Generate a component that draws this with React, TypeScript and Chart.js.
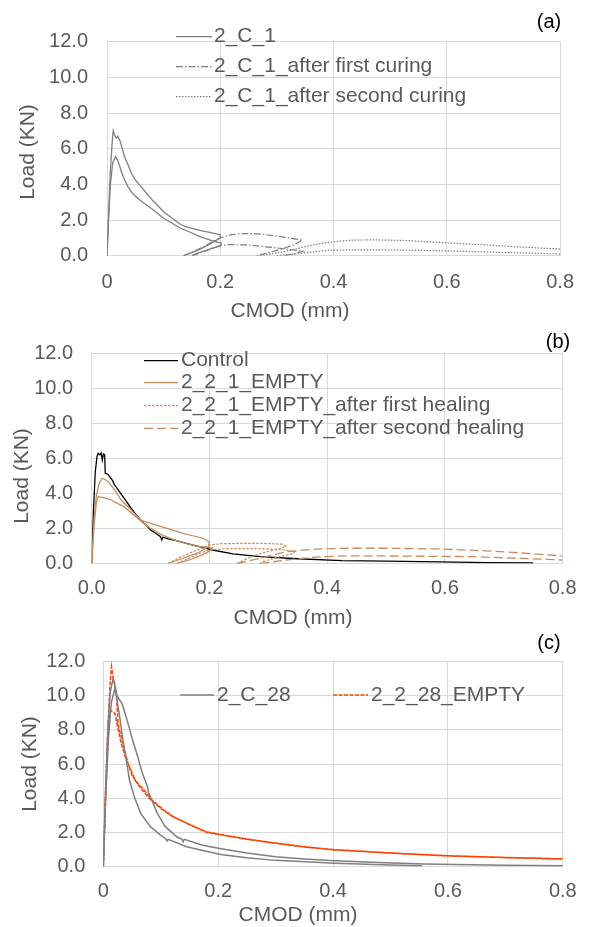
import { useEffect, useRef } from "react";
import { Chart, registerables } from "chart.js";
Chart.register(...registerables);

const FONT = "'Liberation Sans', Arial, sans-serif";
const TEXT = "#595959";
const GRID = "#d9d9d9";
const GRAY = "#7f7f7f";
const TAN = "#c48d60";
const RED = "#ff4000";

// ---- tick labels ----
const yTickLabels = ["0.0", "2.0", "4.0", "6.0", "8.0", "10.0", "12.0"];
const xTickLabelsA = ["0", "0.2", "0.4", "0.6", "0.8"];
const xTickLabelsB = ["0.0", "0.2", "0.4", "0.6", "0.8"];
const xTickLabelsC = ["0", "0.2", "0.4", "0.6", "0.8"];

// ---- panel (a) data: [CMOD mm, Load kN] ----
const a_C1_s1 = [[0,0],[0.003,2.5],[0.006,4.8],[0.009,6.3],[0.011,7.0],[0.013,6.8],[0.016,6.6],[0.019,6.7],[0.023,6.45],[0.027,6.0],[0.031,5.55],[0.037,5.1],[0.043,4.62],[0.05,4.25],[0.06,3.87],[0.07,3.5],[0.08,3.12],[0.09,2.8],[0.1,2.47],[0.115,2.1],[0.13,1.75],[0.14,1.62],[0.164,1.42],[0.185,1.28],[0.2,1.18],[0.2,1.0],[0.18,0.62],[0.16,0.3],[0.142,0.08],[0.135,0]];
const a_C1_s2 = [[0,0],[0.003,2.2],[0.006,4.0],[0.01,5.2],[0.015,5.55],[0.019,5.35],[0.0255,4.71],[0.031,4.25],[0.037,3.87],[0.045,3.5],[0.054,3.22],[0.065,2.95],[0.078,2.66],[0.09,2.35],[0.1,2.1],[0.115,1.82],[0.13,1.54],[0.148,1.3],[0.164,1.07],[0.185,0.85],[0.202,0.7],[0.2,0.55],[0.18,0.35],[0.16,0.15],[0.15,0]];
const a_first_s1 = [[0.135,0],[0.15,0.2],[0.17,0.5],[0.19,0.85],[0.205,1.05],[0.22,1.18],[0.24,1.24],[0.26,1.24],[0.28,1.18],[0.3,1.1],[0.32,1.0],[0.345,0.88],[0.33,0.6],[0.3,0.3],[0.265,0]];
const a_first_s2 = [[0.15,0],[0.165,0.15],[0.185,0.4],[0.2,0.58],[0.22,0.62],[0.25,0.6],[0.28,0.5],[0.31,0.4],[0.346,0.25],[0.33,0.1],[0.31,0]];
const a_second_s1 = [[0.265,0],[0.3,0.15],[0.33,0.35],[0.36,0.58],[0.39,0.75],[0.43,0.87],[0.47,0.89],[0.53,0.85],[0.6,0.72],[0.67,0.6],[0.74,0.47],[0.8,0.37]];
const a_second_s2 = [[0.3,0],[0.34,0.12],[0.387,0.3],[0.43,0.33],[0.5,0.32],[0.59,0.28],[0.7,0.18],[0.8,0.1]];

// ---- panel (b) data ----
const b_control = [[0,0],[0.003,3.0],[0.006,5.2],[0.009,6.1],[0.011,6.28],[0.014,6.2],[0.016,6.3],[0.018,5.9],[0.02,6.25],[0.022,6.2],[0.023,5.14],[0.027,5.1],[0.0305,4.95],[0.035,4.75],[0.039,4.47],[0.043,4.3],[0.047,4.1],[0.055,3.72],[0.067,3.15],[0.075,2.8],[0.083,2.48],[0.092,2.2],[0.1,1.91],[0.11,1.7],[0.117,1.53],[0.119,1.34],[0.121,1.5],[0.13,1.4],[0.139,1.34],[0.155,1.2],[0.172,1.05],[0.19,0.9],[0.205,0.77],[0.24,0.55],[0.286,0.39],[0.35,0.27],[0.425,0.16],[0.5,0.13],[0.592,0.09],[0.67,0.05],[0.75,0.03]];
const b_empty_s1 = [[0,0],[0.004,2.5],[0.008,3.9],[0.013,4.6],[0.018,4.86],[0.022,4.8],[0.028,4.66],[0.033,4.45],[0.039,4.19],[0.05,3.62],[0.067,3.05],[0.083,2.48],[0.1,2.29],[0.128,2.0],[0.155,1.72],[0.189,1.44],[0.2,1.24],[0.198,0.95],[0.18,0.6],[0.155,0.3],[0.13,0]];
const b_empty_s2 = [[0,0],[0.004,2.2],[0.008,3.5],[0.011,3.81],[0.02,3.75],[0.033,3.62],[0.045,3.4],[0.055,3.24],[0.067,2.9],[0.078,2.58],[0.09,2.25],[0.1,2.0],[0.12,1.62],[0.14,1.35],[0.16,1.15],[0.18,0.98],[0.205,0.9],[0.2,0.7],[0.185,0.45],[0.165,0.2],[0.145,0]];
const b_first_s1 = [[0.13,0],[0.15,0.35],[0.17,0.65],[0.19,0.9],[0.2,1.05],[0.22,1.13],[0.26,1.15],[0.3,1.14],[0.325,1.1],[0.33,0.98],[0.32,0.85],[0.29,0.6],[0.265,0.3],[0.247,0]];
const b_first_s2 = [[0.145,0],[0.165,0.3],[0.185,0.6],[0.2,0.78],[0.23,0.85],[0.28,0.85],[0.32,0.8],[0.345,0.68],[0.34,0.55],[0.31,0.3],[0.29,0.1],[0.286,0]];
const b_second_s1 = [[0.247,0],[0.28,0.25],[0.33,0.67],[0.38,0.82],[0.436,0.87],[0.5,0.87],[0.59,0.83],[0.67,0.72],[0.74,0.58],[0.8,0.43]];
const b_second_s2 = [[0.286,0],[0.33,0.2],[0.38,0.36],[0.425,0.43],[0.5,0.43],[0.647,0.39],[0.72,0.3],[0.8,0.2]];

// ---- panel (c) data ----
const c_C28_s1 = [[0,0],[0.004,4.5],[0.008,8],[0.012,10.2],[0.017,11.0],[0.02,10.6],[0.024,10.0],[0.0285,9.75],[0.033,9.5],[0.037,9.06],[0.043,8.38],[0.051,7.41],[0.06,6.43],[0.068,5.46],[0.077,4.68],[0.079,4.3],[0.082,4.09],[0.094,3.12],[0.108,2.34],[0.128,1.75],[0.137,1.6],[0.139,1.46],[0.141,1.6],[0.173,1.25],[0.205,1.05],[0.25,0.8],[0.3,0.58],[0.35,0.45],[0.403,0.35],[0.48,0.24],[0.557,0.16],[0.7,0.08],[0.8,0.05]];
const c_C28_s2 = [[0,0],[0.004,4],[0.009,7.5],[0.014,9.6],[0.02,10.4],[0.023,9.94],[0.0285,8.77],[0.034,7.41],[0.04,6.24],[0.0455,5.07],[0.054,4.09],[0.065,3.12],[0.082,2.34],[0.0995,1.85],[0.109,1.62],[0.111,1.5],[0.113,1.6],[0.145,1.17],[0.204,0.72],[0.25,0.52],[0.3,0.37],[0.403,0.2],[0.5,0.1],[0.555,0.05]];
const c_E28_s1 = [[0,0],[0.004,4.5],[0.008,8.2],[0.012,10.8],[0.0143,11.7],[0.017,11.1],[0.02,10.7],[0.023,9.94],[0.0256,8.38],[0.028,8.0],[0.032,7.5],[0.037,6.82],[0.043,6.05],[0.051,5.26],[0.06,4.88],[0.071,4.49],[0.085,3.9],[0.105,3.32],[0.122,2.92],[0.145,2.54],[0.179,2.05],[0.207,1.85],[0.25,1.6],[0.3,1.37],[0.35,1.15],[0.403,0.98],[0.5,0.8],[0.585,0.65],[0.7,0.53],[0.8,0.45]];
const c_E28_s2 = [[0,0],[0.004,4.0],[0.008,7.5],[0.011,9.06],[0.015,9.1],[0.02,8.97],[0.026,8.0],[0.031,7.22],[0.04,6.24],[0.048,5.65],[0.055,5.07],[0.065,4.6],[0.08,4.0],[0.1,3.4],[0.12,2.95],[0.145,2.55],[0.18,2.0],[0.2,1.9],[0.25,1.62],[0.3,1.38],[0.35,1.17],[0.4,1.0],[0.5,0.8],[0.6,0.64],[0.7,0.54],[0.8,0.46]];

type Series = { data: number[][]; color: string; width: number; dash: number[] };
type LegendItem = { label: string; color: string; width: number; dash: number[]; x1: number; x2: number; tx: number; y: number };
type PanelCfg = {
  top: number; height: number;
  area: { left: number; top: number; right: number; bottom: number };
  xLabels: string[]; xPad: number; yPad: number;
  series: Series[]; legend: LegendItem[];
  yTitle: [number, number]; xTitle: [number, number];
  tag: string; tagPos: [number, number];
};

const DASHDOT = [7, 2, 1.5, 2];
const DOT = [1.5, 1.5];
const SHORTDASH = [2.5, 1.5];
const LONGDASH = [9, 4];
const REDDASH = [4, 1.5];

const panels: PanelCfg[] = [
  {
    top: 0, height: 322,
    area: { left: 107, top: 41.7, right: 568.3, bottom: 255.7 },
    xLabels: xTickLabelsA, xPad: 15, yPad: 19,
    series: [
      { data: a_C1_s1, color: GRAY, width: 1.3, dash: [] },
      { data: a_C1_s2, color: GRAY, width: 1.3, dash: [] },
      { data: a_first_s1, color: GRAY, width: 1.2, dash: DASHDOT },
      { data: a_first_s2, color: GRAY, width: 1.2, dash: DASHDOT },
      { data: a_second_s1, color: GRAY, width: 1.2, dash: DOT },
      { data: a_second_s2, color: GRAY, width: 1.2, dash: DOT },
    ],
    legend: [
      { label: "2_C_1", color: GRAY, width: 1.3, dash: [], x1: 176, x2: 212, tx: 214, y: 36.7 },
      { label: "2_C_1_after first curing", color: GRAY, width: 1.2, dash: DASHDOT, x1: 176, x2: 212, tx: 214, y: 66.7 },
      { label: "2_C_1_after second curing", color: GRAY, width: 1.2, dash: DOT, x1: 176, x2: 212, tx: 214, y: 96.7 },
    ],
    yTitle: [28, 152], xTitle: [290, 311], tag: "(a)", tagPos: [549, 22],
  },
  {
    top: 322, height: 306,
    area: { left: 91.7, top: 353, right: 571.7, bottom: 563.5 },
    xLabels: xTickLabelsB, xPad: 12.5, yPad: 18.6,
    series: [
      { data: b_empty_s1, color: TAN, width: 1.3, dash: [] },
      { data: b_empty_s2, color: TAN, width: 1.3, dash: [] },
      { data: b_first_s1, color: TAN, width: 1.2, dash: SHORTDASH },
      { data: b_first_s2, color: TAN, width: 1.2, dash: SHORTDASH },
      { data: b_second_s1, color: TAN, width: 1.3, dash: LONGDASH },
      { data: b_second_s2, color: TAN, width: 1.3, dash: LONGDASH },
      { data: b_control, color: "#000000", width: 1.3, dash: [] },
    ],
    legend: [
      { label: "Control", color: "#000000", width: 1.3, dash: [], x1: 144, x2: 178, tx: 181, y: 360.7 },
      { label: "2_2_1_EMPTY", color: TAN, width: 1.3, dash: [], x1: 144, x2: 178, tx: 181, y: 382.7 },
      { label: "2_2_1_EMPTY_after first healing", color: TAN, width: 1.2, dash: SHORTDASH, x1: 144, x2: 178, tx: 181, y: 405.7 },
      { label: "2_2_1_EMPTY_after second healing", color: TAN, width: 1.3, dash: LONGDASH, x1: 144, x2: 178, tx: 181, y: 428.3 },
    ],
    yTitle: [22.5, 476], xTitle: [293, 618], tag: "(b)", tagPos: [558, 342],
  },
  {
    top: 628, height: 299,
    area: { left: 103.3, top: 661.5, right: 573, bottom: 866.7 },
    xLabels: xTickLabelsC, xPad: 12.3, yPad: 18,
    series: [
      { data: c_C28_s1, color: GRAY, width: 1.5, dash: [] },
      { data: c_C28_s2, color: GRAY, width: 1.5, dash: [] },
      { data: c_E28_s2, color: RED, width: 1.5, dash: REDDASH },
      { data: c_E28_s1, color: RED, width: 1.5, dash: REDDASH },
    ],
    legend: [
      { label: "2_C_28", color: GRAY, width: 1.5, dash: [], x1: 180, x2: 214, tx: 217, y: 695 },
      { label: "2_2_28_EMPTY", color: RED, width: 1.5, dash: REDDASH, x1: 333, x2: 368, tx: 371, y: 695 },
    ],
    yTitle: [30, 764], xTitle: [298, 915], tag: "(c)", tagPos: [549, 643],
  },
];

function Panel({ cfg }: { cfg: PanelCfg }) {
  const ref = useRef<HTMLCanvasElement>(null);
  useEffect(() => {
    const canvas = ref.current!;
    const a = cfg.area;
    const T = cfg.top;
    const textPlugin = {
      id: "panelText",
      afterDraw(chart: any) {
        const ctx = chart.ctx as CanvasRenderingContext2D;
        ctx.save();
        // legend
        for (const it of cfg.legend) {
          ctx.strokeStyle = it.color;
          ctx.lineWidth = it.width;
          ctx.setLineDash(it.dash);
          ctx.beginPath();
          ctx.moveTo(it.x1, it.y - T);
          ctx.lineTo(it.x2, it.y - T);
          ctx.stroke();
          ctx.setLineDash([]);
          ctx.fillStyle = TEXT;
          ctx.font = `21px ${FONT}`;
          ctx.textAlign = "left";
          ctx.textBaseline = "middle";
          ctx.fillText(it.label, it.tx, it.y - T);
        }
        // x title
        ctx.fillStyle = TEXT;
        ctx.font = `21px ${FONT}`;
        ctx.textAlign = "center";
        ctx.textBaseline = "middle";
        ctx.fillText("CMOD (mm)", cfg.xTitle[0], cfg.xTitle[1] - T);
        // y title
        ctx.save();
        ctx.translate(cfg.yTitle[0], cfg.yTitle[1] - T);
        ctx.rotate(-Math.PI / 2);
        ctx.fillText("Load (KN)", 0, 0);
        ctx.restore();
        // tag
        ctx.fillStyle = "#000000";
        ctx.font = `20px ${FONT}`;
        ctx.fillText(cfg.tag, cfg.tagPos[0], cfg.tagPos[1] - T);
        ctx.restore();
      },
    };
    const chart = new Chart(canvas, {
      type: "scatter",
      data: {
        datasets: cfg.series.map((s) => ({
          data: s.data.map(([x, y]) => ({ x, y })),
          showLine: true,
          borderColor: s.color,
          backgroundColor: s.color,
          borderWidth: s.width,
          borderDash: s.dash,
          pointRadius: 0,
          pointHoverRadius: 0,
          tension: 0,
          fill: false,
        })),
      },
      options: {
        responsive: false,
        animation: false,
        events: [],
        layout: { padding: { left: 0, top: a.top - T, right: 589 - a.right, bottom: 0 } },
        plugins: { legend: { display: false }, tooltip: { enabled: false } },
        scales: {
          x: {
            type: "linear",
            min: 0,
            max: 0.8,
            ticks: {
              stepSize: 0.2,
              padding: cfg.xPad,
              color: TEXT,
              font: { family: FONT, size: 20 },
              maxRotation: 0,
              autoSkip: false,
              callback: (_v: any, i: number) => cfg.xLabels[i],
            },
            grid: { color: GRID, drawTicks: false, lineWidth: 1 },
            border: { display: false },
            afterFit: (s: any) => { s.height = T + cfg.height - a.bottom; },
          },
          y: {
            type: "linear",
            min: 0,
            max: 12,
            ticks: {
              stepSize: 2,
              padding: cfg.yPad,
              color: TEXT,
              font: { family: FONT, size: 20 },
              callback: (_v: any, i: number) => yTickLabels[i],
            },
            grid: { color: GRID, drawTicks: false, lineWidth: 1 },
            border: { display: false },
            afterFit: (s: any) => { s.width = a.left; },
          },
        },
      } as any,
      plugins: [textPlugin],
    });
    return () => chart.destroy();
  }, [cfg]);
  return (
    <canvas
      ref={ref}
      width={589}
      height={cfg.height}
      style={{ position: "absolute", left: 0, top: cfg.top, width: 589, height: cfg.height, display: "block" }}
    />
  );
}

export default function App() {
  return (
    <div style={{ position: "absolute", left: 0, top: 0, width: 589, height: 927, background: "#ffffff" }}>
      {panels.map((p) => (
        <Panel key={p.tag} cfg={p} />
      ))}
    </div>
  );
}
